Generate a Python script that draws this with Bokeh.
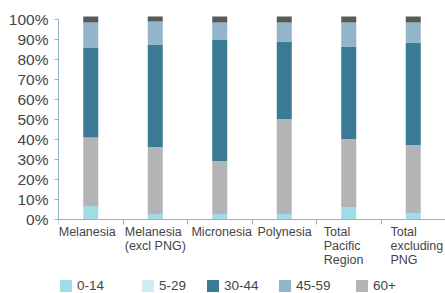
import numpy as np
from bokeh.plotting import figure
from bokeh.models import (Range1d, FixedTicker, Legend, LegendItem, Label,
                          NumeralTickFormatter, ColumnDataSource)
from bokeh.embed import file_html
from bokeh.resources import INLINE

# ---- data (percent of population) ----
categories = ["Melanesia", "Melanesia (excl PNG)", "Micronesia", "Polynesia",
              "Total Pacific Region", "Total excluding PNG"]
category_lines = [["Melanesia"], ["Melanesia", "(excl PNG)"], ["Micronesia"],
                  ["Polynesia"], ["Total", "Pacific", "Region"],
                  ["Total", "excluding", "PNG"]]
age_0_14 = [6.7, 2.7, 2.7, 2.7, 6.2, 3.2]
age_5_29 = [0.0, 0.0, 0.0, 0.0, 0.0, 0.0]
age_60_plus = [34.3, 33.6, 26.6, 47.6, 34.1, 34.1]
age_30_44 = [45.0, 51.2, 60.7, 38.7, 46.2, 51.2]
age_45_59 = [12.5, 11.5, 8.5, 9.5, 12.0, 10.0]
not_stated = [3.0, 2.5, 3.0, 3.0, 3.0, 3.0]
y_tick_values = [0, 10, 20, 30, 40, 50, 60, 70, 80, 90, 100]

series_names = ["0-14", "5-29", "60+", "30-44", "45-59", "not stated"]
series_values = [age_0_14, age_5_29, age_60_plus, age_30_44, age_45_59, not_stated]
series_colors = ["#a1dbe6", "#d0ebf1", "#b3b4b6", "#3a7a94", "#92b5c9", "#58595b"]

FONT = "Liberation Sans"
TEXT = "#454545"
AXIS = "#8fb4c9"
PX = 1.0 / 200.0  # data units per pixel on the y scale

data = {"x": [i + 0.5 for i in range(len(categories))]}
keys = []
for k, vals in enumerate(series_values):
    key = "s%d" % k
    keys.append(key)
    data[key] = [v / 100.0 for v in vals]
source = ColumnDataSource(data)

p = figure(width=445, height=293, x_range=Range1d(0, len(categories)),
           y_range=Range1d(-0.37, 1.02), output_backend="svg",
           toolbar_location=None, min_border_left=58, min_border_right=0,
           min_border_top=15, min_border_bottom=0)
p.outline_line_color = None
p.xgrid.visible = False
p.ygrid.visible = False

renderers = p.vbar_stack(keys, x="x", width=0.2326, fill_color=series_colors,
                         line_color=None, source=source)

# y axis
ya = p.yaxis[0]
ya.ticker = FixedTicker(ticks=[v / 100.0 for v in y_tick_values])
ya.formatter = NumeralTickFormatter(format="0%")
ya.bounds = (0, 1)
ya.axis_line_color = AXIS
ya.major_tick_line_color = AXIS
ya.major_tick_out = 4
ya.major_tick_in = 0
ya.minor_tick_line_color = None
ya.major_label_standoff = 6
ya.major_label_text_font = FONT
ya.major_label_text_font_size = "15.5px"
ya.major_label_text_color = TEXT

# x axis at y = 0, ticks at category boundaries, labels drawn separately
xa = p.xaxis[0]
xa.fixed_location = 0
xa.bounds = (0, len(categories))
xa.ticker = FixedTicker(ticks=list(range(len(categories) + 1)))
xa.axis_line_color = AXIS
xa.major_tick_line_color = AXIS
xa.major_tick_out = 5
xa.major_tick_in = 0
xa.minor_tick_line_color = None
xa.major_label_text_font_size = "0px"
xa.major_label_text_alpha = 0

# category labels (left-aligned blocks under each bar)
label_offsets = [-32, -30.5, -28.3, -26.8, -25, -22.8]
line_centers = [12.4, 26.4, 40.7]  # px below the zero line
for i, lines in enumerate(category_lines):
    for j, line in enumerate(lines):
        p.add_layout(Label(x=i + 0.5, y=-line_centers[j] * PX, text=line,
                           x_offset=label_offsets[i], text_align="left",
                           text_baseline="middle", text_font=FONT,
                           text_font_size="12.5px", text_color=TEXT))

# legend: one item each, placed like the reference
legend_names = ["0-14", "5-29", "30-44", "45-59", "60+"]
legend_renderer_idx = [0, 1, 3, 4, 2]
legend_x = [0, 82, 147, 219, 296]
for name, idx, lx in zip(legend_names, legend_renderer_idx, legend_x):
    leg = Legend(items=[LegendItem(label=name, renderers=[renderers[idx]])],
                 location=(lx, 0), orientation="horizontal",
                 glyph_width=15, glyph_height=15, label_height=15,
                 label_standoff=4, padding=0, margin=0, spacing=0,
                 border_line_color=None, background_fill_alpha=0,
                 label_text_font=FONT, label_text_font_size="13.5px",
                 label_text_color=TEXT)
    p.add_layout(leg, "center")

open("out.html", "w").write(file_html(p, INLINE))
